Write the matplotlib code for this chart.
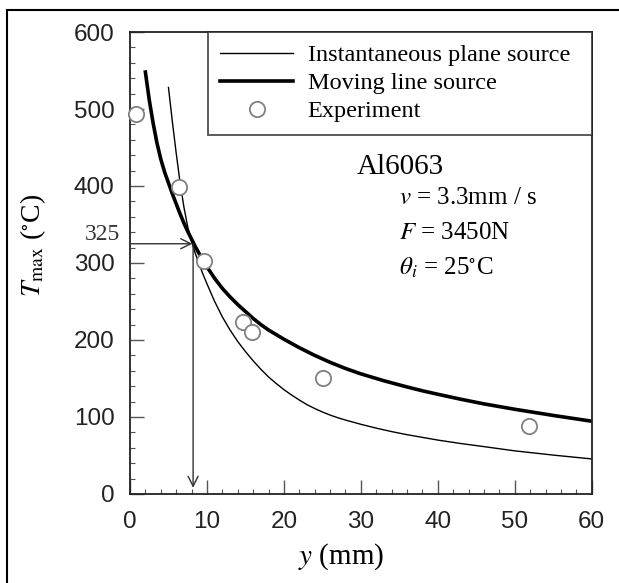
import matplotlib
matplotlib.use("Agg")
import matplotlib.pyplot as plt
from matplotlib.lines import Line2D

plt.rcParams['mathtext.fontset'] = 'stix'

# Instantaneous plane source (thin curve)
plane_y = [5.0, 5.5, 6.0, 6.5, 7.0, 7.5, 8.0, 8.5, 9.0, 9.5, 10.0, 11.0, 12.0, 13.0,
           14.0, 15.0, 16.0, 17.0, 18.0, 19.0, 20.0, 21.0, 22.0, 23.0, 24.0, 25.0,
           26.0, 27.0, 28.0, 30.0, 32.0, 34.0, 36.0, 38.0, 40.0, 43.0, 46.0, 50.0,
           55.0, 60.0]
plane_T = [528, 484, 443, 405, 373, 347, 328, 312, 298, 285, 273, 250, 230, 213,
           198, 185, 173, 162, 152, 143.5, 135.5, 128.5, 122, 116, 111, 106.5,
           102.5, 99, 96, 90.5, 85.5, 81, 77, 73.5, 70, 65.5, 61.5, 56,
           50.5, 45.5]

# Moving line source (thick curve)
line_y = [2.0, 2.5, 3.0, 3.5, 4.0, 4.5, 5.0, 5.5, 6.0, 6.5, 7.0, 7.5, 8.0, 8.5,
          9.0, 9.5, 10.0, 11.0, 12.0, 13.0, 14.0, 15.0, 16.0, 17.0, 18.0, 19.0,
          20.0, 22.0, 24.0, 26.0, 28.0, 30.0, 33.0, 36.0, 38.0, 40.0, 43.0, 46.0,
          50.0, 55.0, 60.0]
line_T = [548, 512, 482, 456, 435, 418, 404, 390, 377, 364, 352, 341, 331, 321,
          312, 303, 295, 280, 267, 256, 246, 237, 228, 220, 213, 207,
          201, 190, 180, 171, 163, 156, 147, 139, 134, 129.5, 123, 117,
          110, 102, 94.5]

# Measured peak temperatures
exp_y = [0.8, 6.4, 9.6, 14.7, 15.8, 25.1, 51.8]
exp_T = [493, 399, 303, 224, 210, 151, 88]

y_cross = 8.2
T_cross = 325

fig = plt.figure(figsize=(6.19, 5.83), dpi=100)
ax = fig.add_axes([0.210, 0.1527, 0.746, 0.7924])

ax.plot(plane_y, plane_T, color='black', lw=1.0, label='Instantaneous plane source')
ax.plot(line_y, line_T, color='black', lw=2.6, label='Moving line source')
ax.plot(exp_y, exp_T, 'o', ls='none', mfc='white', mec='#808080', mew=1.3,
        ms=11, label='Experiment', clip_on=False, zorder=5)

# arrows marking the 325 degree crossing
ax.annotate('', xy=(y_cross - 0.1, T_cross), xytext=(0, T_cross),
            arrowprops=dict(arrowstyle='->', color='#333333', lw=1.0,
                            mutation_scale=18, shrinkA=0, shrinkB=0))
ax.annotate('', xy=(y_cross, 8), xytext=(y_cross, T_cross),
            arrowprops=dict(arrowstyle='->', color='#333333', lw=1.0,
                            mutation_scale=18, shrinkA=0, shrinkB=0))
ax.text(-0.022, 0.561, '325', transform=ax.transAxes, ha='right', va='center',
        family='Liberation Serif', fontsize=17, color='#333333')

ax.set_xlim(0, 60)
ax.set_ylim(0, 600)
ax.set_xticks(range(0, 61, 10))
ax.set_yticks(range(0, 601, 100))
ax.set_xticks(range(0, 61, 2), minor=True)
ax.set_yticks(range(0, 601, 20), minor=True)
ax.tick_params(which='both', direction='in', top=False, right=False,
               color='#555555')
ax.tick_params(which='major', length=10, width=1.0, labelsize=17.5)
ax.tick_params(axis='x', which='major', pad=12)
ax.tick_params(axis='y', which='major', pad=11)
ax.tick_params(which='minor', length=3.6, width=0.8)
for lab in ax.get_xticklabels() + ax.get_yticklabels():
    lab.set_family('Liberation Sans')
    lab.set_color('#222222')
for sp in ax.spines.values():
    sp.set_linewidth(1.3)
    sp.set_color('#222222')

ax.set_xlabel(r'$y$ (mm)', family='Liberation Serif', fontsize=21)
ax.xaxis.set_label_coords(0.457, -0.136)
ax.xaxis.label.set_va('center')
ax.set_ylabel(r'$T_{\rm max}$ ($^{\circ}$C)', family='Liberation Serif', fontsize=20)
ax.yaxis.set_label_coords(-0.21, 0.539)
ax.yaxis.label.set_va('center')

ax.text(0.491, 0.708, 'Al6063', transform=ax.transAxes, family='Liberation Serif',
        fontsize=21, va='center', ha='left')
ax.text(0.582, 0.641, r'$v$ = 3.3mm / s', transform=ax.transAxes,
        family='Liberation Serif', fontsize=18, va='center', ha='left')
ax.text(0.582, 0.565, r'$F$ = 3450N', transform=ax.transAxes,
        family='Liberation Serif', fontsize=18, va='center', ha='left')
ax.text(0.582, 0.489, r'$\theta_i$ = 25$^{\circ}$C', transform=ax.transAxes,
        family='Liberation Serif', fontsize=18, va='center', ha='left')

leg = ax.legend(loc='upper left', bbox_to_anchor=(0.169, 0.0, 0.831, 1.0),
                mode='expand', borderaxespad=0, fancybox=False, frameon=True,
                edgecolor='#222222', handlelength=3.0, handletextpad=0.6,
                labelspacing=0.25, borderpad=0.5, markerscale=1.0,
                prop={'family': 'Liberation Serif', 'size': 17.5})
leg.get_frame().set_linewidth(1.3)

# outer frame lines
fig.add_artist(Line2D([7 / 619, 7 / 619], [0, 1 - 10 / 583], transform=fig.transFigure,
                      color='black', lw=1.5))
fig.add_artist(Line2D([7 / 619, 1], [1 - 10 / 583, 1 - 10 / 583], transform=fig.transFigure,
                      color='black', lw=1.5))

fig.savefig('out.png', dpi=100)
